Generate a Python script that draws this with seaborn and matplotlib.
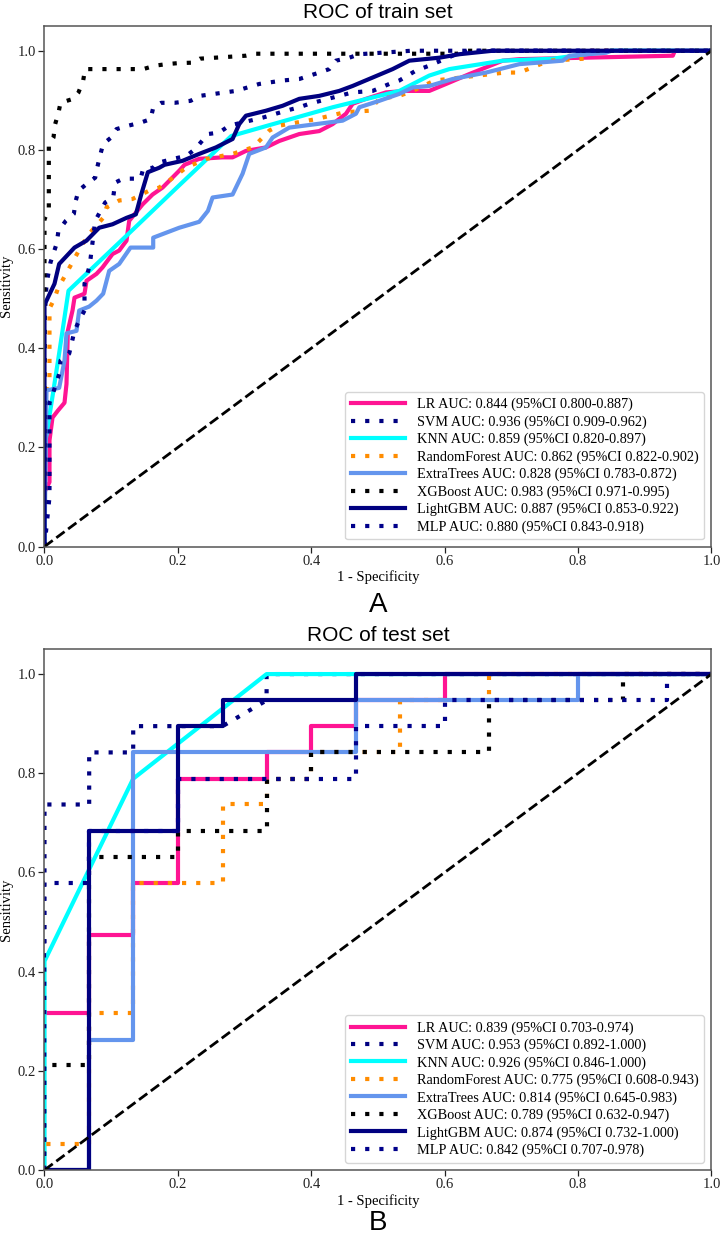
import numpy as np
import pandas as pd
import matplotlib
matplotlib.use("Agg")
import matplotlib.pyplot as plt
import seaborn as sns
from matplotlib.font_manager import FontProperties

# ---------------- data ----------------
models = ["LR", "SVM", "KNN", "RandomForest", "ExtraTrees", "XGBoost", "LightGBM", "MLP"]

train_auc = [0.844, 0.936, 0.859, 0.862, 0.828, 0.983, 0.887, 0.880]
train_ci_low = [0.800, 0.909, 0.820, 0.822, 0.783, 0.971, 0.853, 0.843]
train_ci_high = [0.887, 0.962, 0.897, 0.902, 0.872, 0.995, 0.922, 0.918]

test_auc = [0.839, 0.953, 0.926, 0.775, 0.814, 0.789, 0.874, 0.842]
test_ci_low = [0.703, 0.892, 0.846, 0.608, 0.645, 0.632, 0.732, 0.707]
test_ci_high = [0.974, 1.000, 1.000, 0.943, 0.983, 0.947, 1.000, 0.978]

# train ROC points
train_lr_fpr = [0, 0, 0.0075, 0.0075, 0.012, 0.02, 0.03, 0.033, 0.035, 0.042, 0.045, 0.06, 0.063, 0.078, 0.087,
                0.102, 0.112, 0.123, 0.127, 0.147, 0.162, 0.177, 0.202, 0.21, 0.232, 0.267, 0.282, 0.302, 0.332,
                0.352, 0.382, 0.412, 0.432, 0.452, 0.462, 0.482, 0.512, 0.542, 0.577, 0.602, 0.637, 0.687, 0.712,
                0.942, 0.945, 1.0]
train_lr_tpr = [0, 0.11, 0.13, 0.214, 0.26, 0.274, 0.29, 0.328, 0.435, 0.476, 0.502, 0.51, 0.536, 0.55, 0.563,
                0.59, 0.597, 0.617, 0.657, 0.69, 0.71, 0.724, 0.758, 0.77, 0.782, 0.785, 0.785, 0.798, 0.805,
                0.818, 0.832, 0.838, 0.852, 0.873, 0.893, 0.903, 0.916, 0.919, 0.919, 0.933, 0.953, 0.98, 0.983,
                0.99, 1.0, 1.0]

train_svm_fpr = [0, 0, 0.003, 0.009, 0.018, 0.021, 0.032, 0.044, 0.047, 0.051, 0.063, 0.076, 0.079, 0.084, 0.088,
                 0.1, 0.108, 0.126, 0.144, 0.159, 0.163, 0.175, 0.195, 0.219, 0.233, 0.287, 0.322, 0.357, 0.382,
                 0.412, 0.427, 0.437, 0.457, 0.472, 0.55, 1.0]
train_svm_tpr = [0, 0.45, 0.53, 0.573, 0.61, 0.637, 0.657, 0.671, 0.698, 0.718, 0.731, 0.744, 0.764, 0.792, 0.812,
                 0.825, 0.842, 0.849, 0.855, 0.862, 0.885, 0.895, 0.895, 0.899, 0.909, 0.919, 0.933, 0.94, 0.943,
                 0.956, 0.963, 0.98, 0.986, 0.993, 1.0, 1.0]

train_knn_fpr = [0, 0, 0.011, 0.021, 0.036, 0.13, 0.2, 0.28, 0.332, 0.432, 0.532, 0.577, 0.607, 0.687, 0.762, 0.85, 1.0]
train_knn_tpr = [0, 0.2, 0.294, 0.381, 0.516, 0.636, 0.726, 0.828, 0.848, 0.886, 0.919, 0.95, 0.963, 0.98, 0.984, 1.0, 1.0]

train_rf_fpr = [0, 0, 0.0075, 0.0075, 0.015, 0.02, 0.054, 0.067, 0.088, 0.093, 0.112, 0.132, 0.157, 0.172, 0.187,
                0.213, 0.243, 0.282, 0.312, 0.322, 0.337, 0.352, 0.407, 0.447, 0.462, 0.487, 0.502, 0.532, 0.552,
                0.585, 0.69, 0.712, 0.757, 0.81, 0.82, 1.0]
train_rf_tpr = [0, 0.3, 0.34, 0.48, 0.5, 0.52, 0.603, 0.631, 0.663, 0.684, 0.698, 0.701, 0.718, 0.724, 0.738,
                0.765, 0.782, 0.792, 0.805, 0.818, 0.839, 0.849, 0.862, 0.875, 0.877, 0.879, 0.903, 0.909, 0.919,
                0.94, 0.956, 0.956, 0.98, 0.984, 1.0, 1.0]

train_et_fpr = [0, 0.003, 0.022, 0.03, 0.033, 0.048, 0.052, 0.067, 0.078, 0.088, 0.097, 0.112, 0.129, 0.163, 0.163,
                0.202, 0.232, 0.245, 0.252, 0.282, 0.297, 0.307, 0.332, 0.342, 0.367, 0.407, 0.447, 0.467, 0.472,
                0.502, 0.532, 0.552, 0.577, 0.612, 0.662, 0.712, 0.777, 0.787, 0.842, 0.85, 1.0]
train_et_tpr = [0, 0.315, 0.32, 0.375, 0.43, 0.435, 0.476, 0.484, 0.496, 0.51, 0.556, 0.57, 0.603, 0.603, 0.623,
                0.643, 0.655, 0.677, 0.704, 0.71, 0.752, 0.792, 0.805, 0.825, 0.845, 0.852, 0.859, 0.873, 0.886,
                0.899, 0.913, 0.926, 0.929, 0.943, 0.956, 0.973, 0.98, 0.99, 0.996, 1.0, 1.0]

train_xgb_fpr = [0, 0, 0.0065, 0.0065, 0.0135, 0.016, 0.021, 0.024, 0.043, 0.051, 0.058, 0.061, 0.148, 0.166, 0.183,
                 0.2, 0.223, 0.233, 0.302, 0.317, 0.62, 0.63, 1.0]
train_xgb_tpr = [0, 0.66, 0.68, 0.81, 0.825, 0.852, 0.875, 0.895, 0.903, 0.916, 0.94, 0.963, 0.963, 0.97, 0.973,
                 0.975, 0.976, 0.984, 0.99, 0.994, 0.994, 1.0, 1.0]

train_lgbm_fpr = [0, 0, 0.003, 0.015, 0.022, 0.045, 0.063, 0.082, 0.102, 0.123, 0.137, 0.145, 0.155, 0.172, 0.18,
                  0.207, 0.232, 0.257, 0.282, 0.292, 0.302, 0.332, 0.357, 0.382, 0.412, 0.442, 0.462, 0.492, 0.522,
                  0.547, 0.592, 0.622, 0.672, 1.0]
train_lgbm_tpr = [0, 0.49, 0.496, 0.53, 0.57, 0.603, 0.617, 0.643, 0.65, 0.663, 0.67, 0.71, 0.755, 0.764, 0.77,
                  0.778, 0.792, 0.805, 0.822, 0.852, 0.869, 0.879, 0.889, 0.903, 0.909, 0.919, 0.929, 0.946, 0.963,
                  0.98, 0.986, 0.993, 1.0, 1.0]

train_mlp_fpr = [0, 0.0075, 0.0075, 0.013, 0.022, 0.024, 0.037, 0.045, 0.052, 0.06, 0.06, 0.067, 0.069, 0.076, 0.091,
                 0.103, 0.106, 0.118, 0.144, 0.148, 0.163, 0.17, 0.193, 0.213, 0.226, 0.245, 0.262, 0.277, 0.327,
                 0.362, 0.382, 0.397, 0.442, 0.462, 0.492, 0.517, 0.532, 0.557, 0.577, 0.617, 0.64, 1.0]
train_mlp_tpr = [0, 0.1, 0.29, 0.31, 0.348, 0.375, 0.389, 0.435, 0.456, 0.476, 0.53, 0.563, 0.58, 0.657, 0.694,
                 0.704, 0.734, 0.742, 0.742, 0.762, 0.764, 0.774, 0.782, 0.788, 0.802, 0.832, 0.835, 0.849, 0.865,
                 0.879, 0.886, 0.893, 0.909, 0.916, 0.919, 0.933, 0.94, 0.96, 0.97, 0.993, 1.0, 1.0]

# test ROC points
test_lr_fpr = [0, 0, 0.067, 0.067, 0.133, 0.133, 0.2, 0.2, 0.333, 0.333, 0.4, 0.4, 0.467, 0.467, 0.6, 0.6, 1]
test_lr_tpr = [0, 0.316, 0.316, 0.474, 0.474, 0.579, 0.579, 0.789, 0.789, 0.842, 0.842, 0.895, 0.895, 0.947, 0.947, 1, 1]

test_svm_fpr = [0, 0, 0.067, 0.067, 0.133, 0.133, 0.267, 0.333, 0.333, 1]
test_svm_tpr = [0, 0.737, 0.737, 0.842, 0.842, 0.895, 0.895, 0.947, 1, 1]

test_knn_fpr = [0, 0, 0.133, 0.333, 1]
test_knn_tpr = [0, 0.421, 0.789, 1, 1]

test_rf_fpr = [0, 0, 0.067, 0.067, 0.133, 0.133, 0.267, 0.267, 0.333, 0.333, 0.4, 0.4, 0.533, 0.533, 0.667, 0.667, 1]
test_rf_tpr = [0, 0.053, 0.053, 0.316, 0.316, 0.579, 0.579, 0.737, 0.737, 0.789, 0.789, 0.842, 0.842, 0.947, 0.947, 1, 1]

test_et_fpr = [0, 0.067, 0.067, 0.133, 0.133, 0.467, 0.467, 0.8, 0.8, 1]
test_et_tpr = [0, 0, 0.263, 0.263, 0.842, 0.842, 0.947, 0.947, 1, 1]

test_xgb_fpr = [0, 0, 0.067, 0.067, 0.2, 0.2, 0.333, 0.333, 0.4, 0.4, 0.667, 0.667, 0.867, 0.867, 1]
test_xgb_tpr = [0, 0.211, 0.211, 0.632, 0.632, 0.684, 0.684, 0.789, 0.789, 0.842, 0.842, 0.947, 0.947, 1, 1]

test_lgbm_fpr = [0, 0.067, 0.067, 0.2, 0.2, 0.267, 0.267, 0.467, 0.467, 1]
test_lgbm_tpr = [0, 0, 0.684, 0.684, 0.895, 0.895, 0.947, 0.947, 1, 1]

test_mlp_fpr = [0, 0, 0.067, 0.067, 0.2, 0.2, 0.467, 0.467, 0.6, 0.6, 0.933, 0.933, 1]
test_mlp_tpr = [0, 0.579, 0.579, 0.684, 0.684, 0.789, 0.789, 0.895, 0.895, 0.947, 0.947, 1, 1]

train_curves = [(train_lr_fpr, train_lr_tpr), (train_svm_fpr, train_svm_tpr), (train_knn_fpr, train_knn_tpr),
                (train_rf_fpr, train_rf_tpr), (train_et_fpr, train_et_tpr), (train_xgb_fpr, train_xgb_tpr),
                (train_lgbm_fpr, train_lgbm_tpr), (train_mlp_fpr, train_mlp_tpr)]
test_curves = [(test_lr_fpr, test_lr_tpr), (test_svm_fpr, test_svm_tpr), (test_knn_fpr, test_knn_tpr),
               (test_rf_fpr, test_rf_tpr), (test_et_fpr, test_et_tpr), (test_xgb_fpr, test_xgb_tpr),
               (test_lgbm_fpr, test_lgbm_tpr), (test_mlp_fpr, test_mlp_tpr)]

# ---------------- style ----------------
colors = ["deeppink", "navy", "aqua", "darkorange", "cornflowerblue", "black", "navy", "darkblue"]
dotted = (0, (1, 2.4))
styles = ["-", dotted, "-", dotted, "-", dotted, "-", dotted]

serif = "Liberation Serif"
sans = "Liberation Sans"
plt.rcParams["font.family"] = [serif, "DejaVu Serif"]

fig = plt.figure(figsize=(7.21, 12.36), dpi=100)
ax_train = fig.add_axes([0.0617, 0.5578, 0.9251, 0.4212])
ax_test = fig.add_axes([0.0617, 0.0534, 0.9251, 0.4213])


def draw(ax, curves, aucs, lows, highs, title):
    for name, (fpr, tpr), c, ls, a, lo, hi in zip(models, curves, colors, styles, aucs, lows, highs):
        df = pd.DataFrame({"fpr": fpr, "tpr": tpr})
        label = f"{name} AUC: {a:.3f} (95%CI {lo:.3f}-{hi:.3f})"
        sns.lineplot(data=df, x="fpr", y="tpr", sort=False, estimator=None, ax=ax,
                     color=c, linestyle=ls, linewidth=3, label=label)
    sns.lineplot(x=[0, 1], y=[0, 1], ax=ax, color="black", linestyle="--", linewidth=2, legend=False)
    ax.set_xlim(0, 1)
    ax.set_ylim(0, 1.05)
    ax.set_xticks([0, 0.2, 0.4, 0.6, 0.8, 1.0])
    ax.set_yticks([0, 0.2, 0.4, 0.6, 0.8, 1.0])
    ax.set_xticklabels(["0.0", "0.2", "0.4", "0.6", "0.8", "1.0"])
    ax.set_yticklabels(["0.0", "0.2", "0.4", "0.6", "0.8", "1.0"])
    ax.tick_params(labelsize=10.5, length=4, width=0.9, pad=2, colors="#222222")
    for sp in ax.spines.values():
        sp.set_color("#555555")
        sp.set_linewidth(1.1)
    ax.set_xlabel("1 - Specificity", fontsize=10.5, family=serif, labelpad=2)
    ax.set_ylabel("Sensitivity", fontsize=10.5, family=serif)
    ax.yaxis.set_label_coords(-0.047, 0.5)
    ax.set_title(title, fontsize=15, family=sans)
    ax.legend(loc="lower right", prop=FontProperties(family=serif, size=10.3),
              handlelength=3.8, labelspacing=0.28, borderpad=0.4, framealpha=0.8,
              edgecolor="#cccccc")


draw(ax_train, train_curves, train_auc, train_ci_low, train_ci_high, "ROC of train set")
draw(ax_test, test_curves, test_auc, test_ci_low, test_ci_high, "ROC of test set")

xc = 0.0617 + 0.9251 / 2
fig.text(xc, 0.5049, "A", fontsize=20, family=sans, ha="center", va="baseline")
fig.text(xc, 0.0, "B", fontsize=20, family=sans, ha="center", va="bottom")

fig.savefig("out.png", dpi=100)
